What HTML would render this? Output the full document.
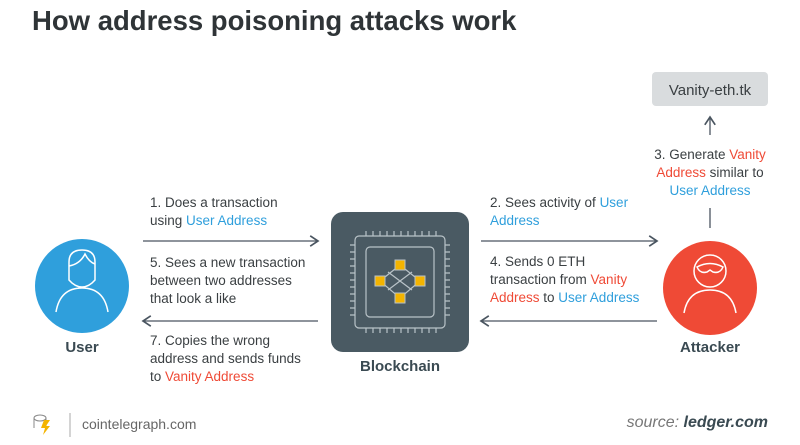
<!DOCTYPE html>
<html><head><style>
body{margin:0;width:800px;height:445px;background:#fff;font-family:"Liberation Sans",sans-serif;overflow:hidden;position:relative}
.t{position:absolute;font-size:13.5px;color:#3a3f42;line-height:18px}
.b{color:#2f9fdc}.r{color:#ef4a36}
</style></head><body>
<div style="position:absolute;left:32px;top:5px;font-size:27.5px;font-weight:bold;color:#2f3437">How address poisoning attacks work</div>
<svg width="800" height="445" style="position:absolute;left:0;top:0">
<defs><marker id="a" markerWidth="10" markerHeight="10" refX="8" refY="5" orient="auto"><path d="M2,1 L8,5 L2,9" fill="none" stroke="#4a5560" stroke-width="1.3"/></marker></defs>
<g stroke="#4a5560" stroke-width="1.3" fill="none">
<line x1="143" y1="241" x2="318" y2="241" marker-end="url(#a)"/>
<line x1="481" y1="241" x2="657" y2="241" marker-end="url(#a)"/>
<line x1="657" y1="321" x2="481" y2="321" marker-end="url(#a)"/>
<line x1="318" y1="321" x2="143" y2="321" marker-end="url(#a)"/>
<line x1="710" y1="228" x2="710" y2="208"/>
<line x1="710" y1="135" x2="710" y2="117" marker-end="url(#a)"/>
</g>
<rect x="652" y="72" width="116" height="34" rx="4" fill="#d9dcde"/>
<text x="710" y="95" font-size="15" fill="#3a3f42" text-anchor="middle" font-family="Liberation Sans">Vanity-eth.tk</text>
<circle cx="82" cy="286" r="47" fill="#2f9fdc"/>
<g stroke="#fff" stroke-width="1.5" fill="none">
<path d="M56,312 Q60,288 82,288 Q104,288 108,312"/>
<path d="M69,262 Q69,250 82,250 Q95,250 95,262 L95,280 Q89,287 82,287 Q75,287 69,280 Z"/>
<path d="M69,266 Q80,264 85,254 Q89,262 95,264"/>
</g>
<circle cx="710" cy="288" r="47" fill="#ef4a36"/>
<g stroke="#fff" stroke-width="1.5" fill="none">
<path d="M684,313 Q688,290 710,290 Q732,290 736,313"/>
<circle cx="710" cy="271" r="16"/>
<path d="M697,267 Q710,260 723,267 Q720,274 713,272 L710,270 L707,272 Q700,274 697,267 Z"/>
</g>
<rect x="331" y="212" width="138" height="140" rx="12" fill="#4a5a63"/>
<g stroke="#b9c3c8" stroke-width="1.2" fill="none">
<rect x="355" y="236" width="90" height="92" rx="4"/>
<rect x="366" y="247" width="68" height="70" rx="4"/>
<path d="M366,231v5M373,231v5M380,231v5M387,231v5M394,231v5M401,231v5M408,231v5M415,231v5M422,231v5M429,231v5M436,231v5M366,328v5M373,328v5M380,328v5M387,328v5M394,328v5M401,328v5M408,328v5M415,328v5M422,328v5M429,328v5M436,328v5M350,245h5M350,252h5M350,259h5M350,266h5M350,273h5M350,280h5M350,287h5M350,294h5M350,301h5M350,308h5M350,315h5M445,245h5M445,252h5M445,259h5M445,266h5M445,273h5M445,280h5M445,287h5M445,294h5M445,301h5M445,308h5M445,315h5"/>
<path d="M400,265L380,281L400,298L420,281Z M388,272L412,290 M412,272L388,290"/>
</g>
<g fill="#f4b400" stroke="#b9c3c8" stroke-width="1">
<rect x="395" y="260" width="10" height="10"/><rect x="375" y="276" width="10" height="10"/><rect x="415" y="276" width="10" height="10"/><rect x="395" y="293" width="10" height="10"/>
</g>
<text x="82" y="352" font-size="15" font-weight="bold" fill="#3a4a52" text-anchor="middle" font-family="Liberation Sans">User</text>
<text x="400" y="371" font-size="15" font-weight="bold" fill="#3a4a52" text-anchor="middle" font-family="Liberation Sans">Blockchain</text>
<text x="710" y="352" font-size="15" font-weight="bold" fill="#3a4a52" text-anchor="middle" font-family="Liberation Sans">Attacker</text>
<g stroke="#888" fill="none" stroke-width="1"><ellipse cx="40" cy="418" rx="6" ry="3"/><path d="M34,418v10M46,418v10"/></g>
<path d="M44,420l6,0-4,6 4,0-7,9 2-7-4,0z" fill="#f4b400"/>
<line x1="70" y1="413" x2="70" y2="437" stroke="#aaa"/>
</svg>
<div class="t" style="left:150px;top:194px">1. Does a transaction<br>using <span class="b">User Address</span></div>
<div class="t" style="left:150px;top:254px">5. Sees a new transaction<br>between two addresses<br>that look a like</div>
<div class="t" style="left:150px;top:332px">7. Copies the wrong<br>address and sends funds<br>to <span class="r">Vanity Address</span></div>
<div class="t" style="left:490px;top:194px">2. Sees activity of <span class="b">User</span><br><span class="b">Address</span></div>
<div class="t" style="left:490px;top:253px">4. Sends 0 ETH<br>transaction from <span class="r">Vanity</span><br><span class="r">Address</span> to <span class="b">User Address</span></div>
<div class="t" style="left:630px;top:146px;width:160px;text-align:center">3. Generate <span class="r">Vanity</span><br><span class="r">Address</span> similar to<br><span class="b">User Address</span></div>
<div style="position:absolute;left:82px;top:416px;font-size:14px;color:#666">cointelegraph.com</div>
<div style="position:absolute;right:32px;top:414px;font-size:16px;color:#777;font-style:italic">source: <b style="color:#3a4a52">ledger.com</b></div>
</body></html>
